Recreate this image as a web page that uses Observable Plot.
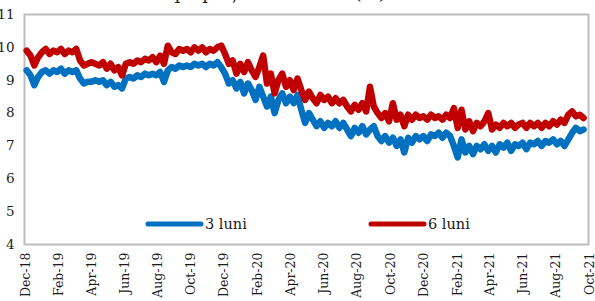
<!DOCTYPE html>
<html><head><meta charset="utf-8">
<script src="https://cdn.jsdelivr.net/npm/d3@7"></script>
<script src="https://cdn.jsdelivr.net/npm/@observablehq/plot@0.6"></script>
<style>body{margin:0;background:#fff;overflow:hidden}</style>
</head><body><div id="chart"></div>
<script>
const title = "Randamente pe piața secundară (%)";
const firstWeek = "2018-12-03";           // weekly observations, 7 days apart
const seriesNames = ["3 luni", "6 luni"];
const seriesColors = ["#0070c0", "#c00000"];
const yield3m = [
9.3,9.15,8.85,9.1,9.25,9.3,9.2,9.3,9.25,9.35,9.2,9.3,9.25,9.3,9.05,8.9,8.95,8.95,9.0,8.95,
9.0,8.85,8.95,8.8,8.85,8.75,9.05,9.1,9.05,9.15,9.1,9.2,9.15,9.2,9.15,9.25,8.95,9.3,9.4,9.35,
9.45,9.4,9.45,9.4,9.5,9.45,9.5,9.4,9.5,9.45,9.55,9.4,9.2,8.9,9.0,8.75,8.95,8.6,8.9,8.7,
8.4,8.8,8.5,8.2,8.5,8.0,8.4,8.6,8.3,8.5,8.3,8.55,8.1,7.7,8.0,7.8,7.6,7.75,7.55,7.7,
7.6,7.75,7.55,7.7,7.5,7.3,7.55,7.4,7.6,7.35,7.5,7.6,7.3,7.15,7.3,7.1,7.25,7.0,7.2,6.8,
7.25,7.1,7.3,7.2,7.3,7.15,7.35,7.3,7.4,7.25,7.4,7.3,7.0,6.65,7.2,6.8,7.0,6.75,7.0,6.9,
7.05,6.85,7.0,6.8,7.05,6.95,7.1,6.85,7.05,7.0,7.1,6.9,7.1,7.05,7.15,7.0,7.15,7.1,7.2,7.05,
7.15,7.0,7.2,7.4,7.55,7.45,7.5];
const yield6m = [
9.9,9.75,9.45,9.7,9.85,9.95,9.8,9.9,9.85,9.95,9.8,9.9,9.85,9.95,9.6,9.45,9.5,9.55,9.5,9.45,
9.55,9.35,9.5,9.3,9.4,9.15,9.5,9.55,9.5,9.6,9.55,9.65,9.6,9.7,9.55,9.75,9.5,10.05,9.85,9.8,
9.95,9.9,9.95,9.85,10.0,9.9,10.0,9.85,9.95,9.9,10.0,10.05,9.8,9.5,9.6,9.2,9.5,9.25,9.55,9.3,
9.1,9.4,9.75,8.9,9.2,8.6,9.0,9.2,8.8,9.0,8.7,9.05,8.7,8.4,8.65,8.45,8.3,8.55,8.4,8.5,
8.3,8.45,8.3,8.4,8.2,8.05,8.25,8.1,8.3,8.05,8.8,8.2,8.0,7.85,8.0,7.75,8.3,7.8,7.95,7.6,
7.95,7.8,7.95,7.85,7.9,7.8,7.95,7.85,7.9,7.8,7.95,7.85,8.15,7.55,8.1,7.5,7.75,7.45,7.7,7.6,
7.75,8.0,7.5,7.65,7.55,7.7,7.6,7.7,7.55,7.65,7.7,7.55,7.7,7.6,7.7,7.55,7.7,7.6,7.75,7.65,
7.8,7.7,7.95,8.05,7.9,7.95,7.85];
const yTicks = [4,5,6,7,8,9,10,11];
const xTicks = ["2018-12-01","2019-02-01","2019-04-01","2019-06-01","2019-08-01","2019-10-01",
"2019-12-01","2020-02-01","2020-04-01","2020-06-01","2020-08-01","2020-10-01","2020-12-01",
"2021-02-01","2021-04-01","2021-06-01","2021-08-01","2021-10-01"];

const start = new Date(firstWeek);
const toRows = (arr, name) => arr.map((v, i) => ({date: d3.utcDay.offset(start, 7 * i), value: v, series: name}));
const rows3 = toRows(yield3m, seriesNames[0]);
const rows6 = toRows(yield6m, seriesNames[1]);

const chart = Plot.plot({
  width: 595, height: 301,
  marginLeft: 24, marginRight: 7, marginTop: 14, marginBottom: 57,
  style: {fontFamily: "'DejaVu Serif', serif", fontSize: "12px", color: "#1a1a1a", background: "#fff"},
  x: {type: "utc", domain: [new Date("2018-11-29"), new Date("2021-09-29")]},
  y: {domain: [4, 11]},
  marks: [
    Plot.frame({stroke: "#bdbdbd", strokeWidth: 2}),
    Plot.axisY({ticks: yTicks, tickSize: 0, tickPadding: 10, fontSize: 13.5, label: null, tickFormat: d => String(d)}),
    Plot.axisX({ticks: xTicks.map(d => new Date(d)), tickSize: 0, tickPadding: 8, tickRotate: -90,
      fontSize: 12.5, tickFormat: d3.utcFormat("%b-%y"), label: null}),
    Plot.line(rows3, {x: "date", y: "value", stroke: seriesColors[0], strokeWidth: 6.5, strokeLinejoin: "round", strokeLinecap: "round"}),
    Plot.line(rows6, {x: "date", y: "value", stroke: seriesColors[1], strokeWidth: 6.5, strokeLinejoin: "round", strokeLinecap: "round"})
  ]
});
document.getElementById("chart").appendChild(chart);

const svg = d3.select(chart);
svg.append("text").attr("x", 53).attr("y", -1).attr("text-anchor", "start")
  .attr("font-family", "'DejaVu Serif', serif").attr("font-size", 18).attr("fill", "#1a1a1a")
  .text(title);
const legend = [{x: 148, tx: 205}, {x: 371, tx: 428}];
legend.forEach((l, i) => {
  svg.append("line").attr("x1", l.x).attr("x2", l.x + 53).attr("y1", 224).attr("y2", 224)
    .attr("stroke", seriesColors[i]).attr("stroke-width", 5).attr("stroke-linecap", "round");
  svg.append("text").attr("x", l.tx).attr("y", 229).attr("text-anchor", "start")
    .attr("font-family", "'DejaVu Serif', serif").attr("font-size", 14.5).attr("fill", "#1a1a1a")
    .text(seriesNames[i]);
});
</script></body></html>
